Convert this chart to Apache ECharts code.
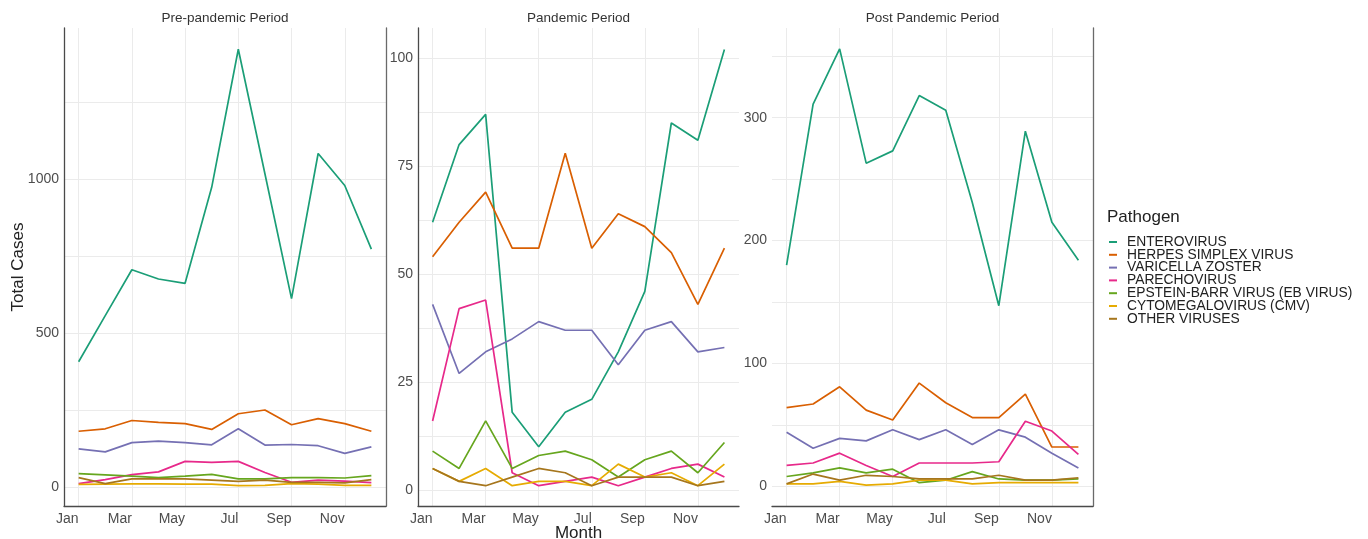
<!DOCTYPE html>
<html><head><meta charset="utf-8">
<script src="https://cdn.jsdelivr.net/npm/echarts@6/dist/echarts.min.js"></script>
<style>html,body{margin:0;padding:0;background:#fff}#c{width:1368px;height:539px}</style>
</head><body><div id="c"></div>
<script>
// ---- data ----
const monthNames = ['Jan','Feb','Mar','Apr','May','Jun','Jul','Aug','Sep','Oct','Nov','Dec'];
const monthNums = [1,2,3,4,5,6,7,8,9,10,11,12];
const monthTicks = [1,3,5,7,9,11];
const pathogens = ['ENTEROVIRUS','HERPES SIMPLEX VIRUS','VARICELLA ZOSTER','PARECHOVIRUS','EPSTEIN-BARR VIRUS (EB VIRUS)','CYTOMEGALOVIRUS (CMV)','OTHER VIRUSES'];
const panelTitles = ['Pre-pandemic Period','Pandemic Period','Post Pandemic Period'];

const preEntero    = [407,557,706,676,662,974,1423,1018,612,1084,980,773];
const preHerpes    = [181,189,216,210,206,187,238,250,202,222,206,181];
const preVaricella = [124,114,144,149,144,137,189,136,138,134,109,130];
const preParecho   = [11,24,40,49,83,80,83,47,15,22,19,14];
const preEBV       = [43,39,35,30,35,41,26,26,30,30,29,37];
const preCMV       = [8,9,10,10,9,9,4,5,11,9,5,5];
const preOther     = [30,11,26,26,26,22,18,22,15,15,13,24];

const pandEntero    = [62,80,87,18,10,18,21,32,46,85,81,102];
const pandHerpes    = [54,62,69,56,56,78,56,64,61,55,43,56];
const pandVaricella = [43,27,32,35,39,37,37,29,37,39,32,33];
const pandParecho   = [16,42,44,4,1,2,3,1,3,5,6,3];
const pandEBV       = [9,5,16,5,8,9,7,3,7,9,4,11];
const pandCMV       = [5,2,5,1,2,2,1,6,3,4,1,6];
const pandOther     = [5,2,1,3,5,4,1,3,3,3,1,2];

const postEntero    = [180,311,356,263,273,318,306,231,147,289,215,184];
const postHerpes    = [64,67,81,62,54,84,68,56,56,75,32,32];
const postVaricella = [44,31,39,37,46,38,46,34,46,40,27,15];
const postParecho   = [17,19,27,17,8,19,19,19,20,53,45,26];
const postEBV       = [8,11,15,11,14,3,5,12,6,5,5,6];
const postCMV       = [2,2,4,1,2,5,5,2,3,3,3,3];
const postOther     = [2,10,5,9,8,6,6,6,9,5,5,7];

const preYLabels  = [0,500,1000];
const preYGrid    = [0,250,500,750,1000,1250];
const pandYLabels = [0,25,50,75,100];
const pandYGrid   = [0,12.5,25,37.5,50,62.5,75,87.5,100];
const postYLabels = [0,100,200,300];
const postYGrid   = [0,50,100,150,200,250,300,350];

// ---- chart ----
const panels = [
  [preEntero,preHerpes,preVaricella,preParecho,preEBV,preCMV,preOther],
  [pandEntero,pandHerpes,pandVaricella,pandParecho,pandEBV,pandCMV,pandOther],
  [postEntero,postHerpes,postVaricella,postParecho,postEBV,postCMV,postOther]
];
const colors = ['#1B9E77','#D95F02','#7570B3','#E7298A','#66A61E','#E6AB02','#A6761D'];
const FONT = '"Liberation Sans", Arial, sans-serif';
const grids = [
  {left:64, top:28, width:322, height:478},
  {left:418, top:28, width:321, height:478},
  {left:772, top:28, width:321, height:478}
];
const yRanges = [[-62,1492],[-3.7,107],[-16,373]];
const yLabelVals = [preYLabels,pandYLabels,postYLabels];
const yGridVals = [preYGrid,pandYGrid,postYGrid];
const axisLineStyle = {color:'#4a4a4a', width:1.3};

const xAxes = grids.map((g,i)=>({
  type:'value', gridIndex:i, min:0.45, max:12.55,
  axisLine:{show:true, onZero:false, lineStyle:axisLineStyle},
  axisTick:{show:false, customValues:monthTicks},
  axisLabel:{customValues:monthTicks, formatter:v=>monthNames[Math.round(v)-1], align:'right', margin:6,
    color:'#4d4d4d', fontSize:14, fontFamily:FONT},
  splitLine:{show:true, lineStyle:{color:'#ebebeb', width:1}},
  name: i===1 ? 'Month' : '', nameLocation:'middle', nameGap:19, nameMoveOverlap:false,
  nameTextStyle:{color:'#222', fontSize:17, fontFamily:FONT}
}));
const yAxes = grids.map((g,i)=>({
  type:'value', gridIndex:i, min:yRanges[i][0], max:yRanges[i][1],
  axisLine:{show:i!==2, onZero:false, lineStyle:axisLineStyle},
  axisTick:{show:false, customValues:yGridVals[i]},
  axisLabel:{customValues:yLabelVals[i], formatter:v=>String(v), margin:5, color:'#4d4d4d', fontSize:14, fontFamily:FONT},
  splitLine:{show:true, lineStyle:{color:'#ebebeb', width:1}},
  name: i===0 ? 'Total Cases' : '', nameLocation:'middle', nameGap:37, nameRotate:90, nameMoveOverlap:false,
  nameTextStyle:{color:'#222', fontSize:17, fontFamily:FONT}
}));
// right border lines for panels 1 and 3
[0,2].forEach(i=>{
  yAxes.push({type:'value', gridIndex:i, position:'right', min:yRanges[i][0], max:yRanges[i][1],
    axisLine:{show:true, onZero:false, lineStyle:{color:'#6a6a6a', width:1.3}},
    axisTick:{show:false}, axisLabel:{show:false}, splitLine:{show:false}});
});

const series = [];
panels.forEach((arrs,p)=>{
  arrs.forEach((vals,k)=>{
    series.push({
      type:'line', name:pathogens[k], xAxisIndex:p, yAxisIndex:p,
      data: vals.map((v,j)=>[monthNums[j], v]),
      showSymbol:false, symbol:'none', color:colors[k],
      lineStyle:{width:1.7, color:colors[k]}, emphasis:{disabled:true}
    });
  });
});

const titles = panelTitles.map((t,i)=>({
  text:t, left:grids[i].left + grids[i].width/2, top:11, textAlign:'center', padding:0,
  textStyle:{fontSize:13.5, fontWeight:'normal', color:'#333', fontFamily:FONT}
}));
titles.push({text:'Pathogen', left:1107, top:209, padding:0,
  textStyle:{fontSize:17, fontWeight:'normal', color:'#222', fontFamily:FONT}});

const chart = echarts.init(document.getElementById('c'), null, {renderer:'canvas'});
chart.setOption({
  animation:false,
  backgroundColor:'#fff',
  title:titles,
  grid:grids.map(g=>Object.assign({containLabel:false, outerBoundsMode:'none'}, g)),
  xAxis:xAxes, yAxis:yAxes,
  legend:{orient:'vertical', left:1109, top:235, padding:0, itemGap:-1.2, itemWidth:8, itemHeight:2,
    icon:'rect', data:pathogens,
    textStyle:{fontSize:13.8, lineHeight:12.8, color:'#222', fontFamily:FONT, padding:[0,0,0,5]}},
  series:series
});
</script></body></html>
